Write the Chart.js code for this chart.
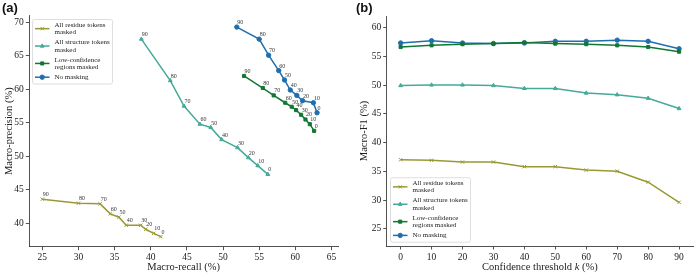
<!DOCTYPE html>
<html>
<head>
<meta charset="utf-8">
<script src="https://cdn.jsdelivr.net/npm/chart.js@4.4.1/dist/chart.umd.min.js"></script>
<style>
  body { margin: 0; background: #fff; width: 698px; height: 275px; position: relative; overflow: hidden; }
  .panel { position: absolute; top: 0; height: 275px; }
  #wrapA { left: 0; width: 345px; }
  #wrapB { left: 345px; width: 353px; }
  .tag { position: absolute; top: 0px; font: bold 13px "Liberation Sans", Arial, sans-serif; color: #111; }
</style>
</head>
<body>
<div class="panel" id="wrapA"><canvas id="chartA" width="345" height="275"></canvas></div>
<div class="panel" id="wrapB"><canvas id="chartB" width="353" height="275"></canvas></div>
<div class="tag" style="left:2px">(a)</div>
<div class="tag" style="left:356px">(b)</div>

<script>
// ---- data ----
const seriesNames = [
    ['All residue tokens', 'masked'],
    ['All structure tokens', 'masked'],
    ['Low-confidence', 'regions masked'],
    ['No masking']
];
const seriesColors = ['#999933', '#44aa99', '#117733', '#1f6fae'];
const seriesMarkers = ['crossRot', 'triangle', 'rect', 'circle'];

// panel (a): threshold k of each point, in drawing order
const pointThresholds = [90, 80, 70, 60, 50, 40, 30, 20, 10, 0];
const residueRecall     = [25.0, 30.0, 33.0, 34.4, 35.6, 36.6, 38.6, 39.3, 40.4, 41.4];
const residuePrecision  = [43.6, 43.0, 42.9, 41.4, 40.9, 39.7, 39.7, 39.1, 38.5, 38.0];
const structureRecall    = [38.7, 42.7, 44.6, 46.8, 48.3, 49.8, 52.0, 53.5, 54.8, 56.2];
const structurePrecision = [67.5, 61.3, 57.5, 54.8, 54.3, 52.5, 51.3, 49.8, 48.6, 47.3];
const lowconfRecall    = [52.9, 55.5, 57.0, 58.6, 59.5, 60.1, 60.8, 61.4, 62.0, 62.6];
const lowconfPrecision = [62.0, 60.2, 59.1, 58.0, 57.4, 56.9, 56.2, 55.5, 54.8, 53.8];
const noMaskRecall    = [51.9, 55.0, 56.3, 57.7, 58.5, 59.3, 60.2, 61.0, 62.5, 63.0];
const noMaskPrecision = [69.3, 67.5, 65.1, 62.8, 61.4, 59.9, 59.1, 58.3, 58.0, 56.5];
const recallTicks = [25, 30, 35, 40, 45, 50, 55, 60, 65];
const precisionTicks = [40, 45, 50, 55, 60, 65, 70];

// panel (b)
const kValues = [0, 10, 20, 30, 40, 50, 60, 70, 80, 90];
const residueF1   = [37.0, 36.9, 36.6, 36.6, 35.8, 35.8, 35.2, 35.0, 33.1, 29.6];
const structureF1 = [49.9, 50.0, 50.0, 49.9, 49.4, 49.4, 48.6, 48.3, 47.7, 45.9];
const lowconfF1   = [56.6, 56.9, 57.1, 57.2, 57.4, 57.2, 57.1, 56.9, 56.6, 55.8];
const noMaskF1    = [57.3, 57.7, 57.3, 57.2, 57.3, 57.6, 57.6, 57.8, 57.6, 56.3];
const kTicks = [0, 10, 20, 30, 40, 50, 60, 70, 80, 90];
const f1Ticks = [25, 30, 35, 40, 45, 50, 55, 60];

const SERIF = '"Liberation Serif", "Times New Roman", serif';
const AXIS = '#262626';

function pairs(xs, ys) {
    return xs.map((x, i) => ({ x: x, y: ys[i] }));
}

function makeDataset(i, points) {
    return {
        label: seriesNames[i].join(' '),
        data: points,
        showLine: true,
        borderColor: seriesColors[i],
        backgroundColor: seriesColors[i],
        borderWidth: 1.5,
        pointStyle: seriesMarkers[i],
        pointRadius: i === 0 ? 2.4 : 2.2,
        pointBorderWidth: 1,
        tension: 0
    };
}

function axisScale(min, max, ticks, size, isX, title) {
    return {
        type: 'linear',
        min: min,
        max: max,
        afterBuildTicks: s => { s.ticks = ticks.map(v => ({ value: v })); },
        afterFit: s => { if (isX) s.height = size; else s.width = size; },
        grid: { display: true, drawOnChartArea: false, drawTicks: true, tickLength: 3.5, color: AXIS, tickWidth: 0.8 },
        border: { display: true, color: AXIS, width: 0.8 },
        ticks: { color: '#222', font: { family: SERIF, size: 9.5 }, padding: 2, maxRotation: 0 },
        title: title
    };
}

// small threshold labels next to each point of panel (a)
const pointLabels = {
    id: 'pointLabels',
    afterDatasetsDraw(chart) {
        const ctx = chart.ctx;
        ctx.save();
        ctx.font = '6px ' + SERIF;
        ctx.fillStyle = '#333';
        ctx.textAlign = 'left';
        ctx.textBaseline = 'alphabetic';
        chart.data.datasets.forEach((ds, d) => {
            chart.getDatasetMeta(d).data.forEach((el, i) => {
                ctx.fillText(String(pointThresholds[i]), el.x + 0.5, el.y - 3);
            });
        });
        ctx.restore();
    }
};

// matplotlib-like legend box with two-line labels
const boxLegend = {
    id: 'boxLegend',
    afterDraw(chart, args, opts) {
        const ctx = chart.ctx;
        const area = chart.chartArea;
        const lineH = 7.3, gap = 2.8, w = 80;
        let h = 6 + 6.3;
        seriesNames.forEach((lines, i) => {
            h += (lines.length - 1) * lineH;
            if (i > 0) h += lineH + gap;
        });
        const left = area.left + opts.dx;
        const top = opts.fromBottom ? area.bottom - opts.dy - h : area.top + opts.dy;
        ctx.save();
        ctx.fillStyle = 'rgba(255,255,255,0.85)';
        ctx.strokeStyle = '#d6d6d6';
        ctx.lineWidth = 0.8;
        ctx.beginPath();
        ctx.roundRect(left + 0.5, top + 0.5, w, h, 2);
        ctx.fill();
        ctx.stroke();
        ctx.font = '7px ' + SERIF;
        ctx.textBaseline = 'middle';
        ctx.textAlign = 'left';
        let y = top + 6;
        seriesNames.forEach((lines, i) => {
            const sy = y + (lines.length - 1) * lineH / 2;
            ctx.strokeStyle = seriesColors[i];
            ctx.lineWidth = 1.5;
            ctx.beginPath();
            ctx.moveTo(left + 3, sy);
            ctx.lineTo(left + 17.5, sy);
            ctx.stroke();
            ctx.lineWidth = 1;
            ctx.fillStyle = seriesColors[i];
            Chart.helpers.drawPoint(ctx, { pointStyle: seriesMarkers[i], radius: 2.2, borderWidth: 1 }, left + 10.2, sy);
            ctx.fillStyle = '#222';
            lines.forEach((t, j) => ctx.fillText(t, left + 22.5, y + j * lineH));
            y += lines.length * lineH + gap;
        });
        ctx.restore();
    }
};

// x title with italic k for panel (b)
const kTitle = {
    id: 'kTitle',
    afterDraw(chart) {
        const ctx = chart.ctx;
        const area = chart.chartArea;
        const parts = [['Confidence threshold ', ''], ['k', 'italic '], [' (%)', '']];
        ctx.save();
        ctx.fillStyle = '#222';
        ctx.textBaseline = 'middle';
        ctx.textAlign = 'left';
        let total = 0;
        parts.forEach(p => { ctx.font = p[1] + '10.5px ' + SERIF; total += ctx.measureText(p[0]).width; });
        let x = (area.left + area.right) / 2 - total / 2;
        parts.forEach(p => {
            ctx.font = p[1] + '10.5px ' + SERIF;
            ctx.fillText(p[0], x, 267.7);
            x += ctx.measureText(p[0]).width;
        });
        ctx.restore();
    }
};

new Chart(document.getElementById('chartA'), {
    type: 'scatter',
    data: {
        datasets: [
            makeDataset(0, pairs(residueRecall, residuePrecision)),
            makeDataset(1, pairs(structureRecall, structurePrecision)),
            makeDataset(2, pairs(lowconfRecall, lowconfPrecision)),
            makeDataset(3, pairs(noMaskRecall, noMaskPrecision))
        ]
    },
    options: {
        responsive: false,
        animation: false,
        layout: { padding: { left: 0, right: 7, top: 15.7, bottom: 0 } },
        plugins: {
            legend: { display: false },
            tooltip: { enabled: false },
            boxLegend: { dx: 2.7, dy: 3.3, fromBottom: false }
        },
        scales: {
            x: axisScale(23.2, 65.9, recallTicks, 28.3, true,
                { display: true, text: 'Macro-recall (%)', color: '#222', font: { family: SERIF, size: 10.5 }, padding: { top: 0, bottom: 1 } }),
            y: axisScale(36.5, 71.0, precisionTicks, 29.3, false,
                { display: true, text: 'Macro-precision (%)', color: '#222', font: { family: SERIF, size: 10.5 }, padding: { top: 2.5, bottom: 0 } })
        }
    },
    plugins: [pointLabels, boxLegend]
});

new Chart(document.getElementById('chartB'), {
    type: 'scatter',
    data: {
        datasets: [
            makeDataset(0, pairs(kValues, residueF1)),
            makeDataset(1, pairs(kValues, structureF1)),
            makeDataset(2, pairs(kValues, lowconfF1)),
            makeDataset(3, pairs(kValues, noMaskF1))
        ]
    },
    options: {
        responsive: false,
        animation: false,
        layout: { padding: { left: 0, right: 2, top: 16, bottom: 0 } },
        plugins: {
            legend: { display: false },
            tooltip: { enabled: false },
            boxLegend: { dx: 3.3, dy: 4.3, fromBottom: true }
        },
        scales: {
            x: axisScale(-4.5, 94.5, kTicks, 29, true, { display: false }),
            y: axisScale(22, 62, f1Ticks, 41.7, false,
                { display: true, text: 'Macro-F1 (%)', color: '#222', font: { family: SERIF, size: 10.5 }, padding: { top: 12.5, bottom: 0 } })
        }
    },
    plugins: [boxLegend, kTitle]
});
</script>
</body>
</html>
